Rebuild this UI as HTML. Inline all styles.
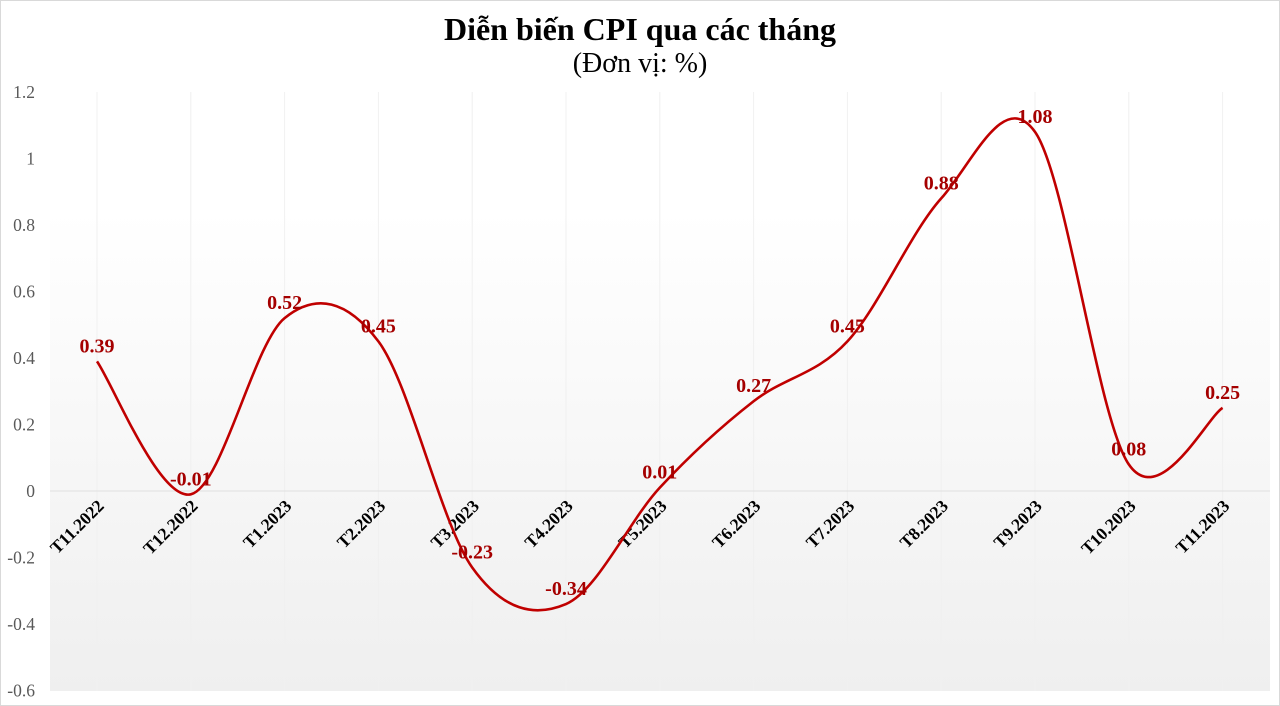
<!DOCTYPE html>
<html><head><meta charset="utf-8"><style>
html,body{margin:0;padding:0;background:#fff}
svg{display:block;font-family:"Liberation Serif",serif}
</style></head><body>
<svg id="chart" width="1280" height="706" viewBox="0 0 1280 706">
<defs>
<linearGradient id="bg" x1="0" y1="0" x2="0" y2="1">
<stop offset="0" stop-color="#ffffff"/><stop offset="0.2" stop-color="#ffffff"/><stop offset="1" stop-color="#efefef"/>
</linearGradient>
</defs>
<rect x="0.5" y="0.5" width="1279" height="705" fill="#fff" stroke="#d9d9d9"/>
<rect x="50" y="92" width="1220" height="599" fill="url(#bg)"/>
<text x="640" y="40" text-anchor="middle" font-size="32" font-weight="bold" fill="#000">Diễn biến CPI qua các tháng</text>
<text x="640" y="72" text-anchor="middle" font-size="28" fill="#000">(Đơn vị: %)</text>
<g id="grid"></g><g id="yaxis"></g><g id="xaxis"></g>
<path id="line" fill="none" stroke="#c00000" stroke-width="2.6"/>
<g id="labels"></g>
</svg>
<script>
const categories=["T11.2022","T12.2022","T1.2023","T2.2023","T3.2023","T4.2023","T5.2023","T6.2023","T7.2023","T8.2023","T9.2023","T10.2023","T11.2023"];
const values=[0.39,-0.01,0.52,0.45,-0.23,-0.34,0.01,0.27,0.45,0.88,1.08,0.08,0.25];
const yTicks=[1.2,1,0.8,0.6,0.4,0.2,0,-0.2,-0.4,-0.6];
const NS="http://www.w3.org/2000/svg";
const x0=97,dx=93.8;
function X(i){return x0+i*dx;}
function Y(v){return 491-v*332.5;}
function mk(tag,attrs,parent,txt){const e=document.createElementNS(NS,tag);for(const k in attrs)e.setAttribute(k,attrs[k]);if(txt!==undefined)e.textContent=txt;parent.appendChild(e);return e;}
const grid=document.getElementById('grid'),ya=document.getElementById('yaxis'),xa=document.getElementById('xaxis'),lb=document.getElementById('labels');
categories.forEach((c,i)=>{
 const g=mk('line',{x1:X(i),x2:X(i),y1:92,y2:691,stroke:'#f0f0f0','stroke-width':1},grid);
 
 
 const ax=X(i)+8,ay=507;
 const t=mk('text',{x:ax,y:ay,'text-anchor':'end','font-size':17.5,'font-weight':'bold',fill:'#000',transform:`rotate(-45 ${ax} ${ay})`},xa,c);
 
 
});
const zl=mk('line',{x1:50,x2:1270,y1:Y(0),y2:Y(0),stroke:'#e0e0e0','stroke-width':1},grid);


yTicks.forEach(v=>{
 const t=mk('text',{x:35,y:Y(v)+6,'text-anchor':'end','font-size':17.5,fill:'#595959'},ya,String(v));
 
 
});
const pts=values.map((v,i)=>[X(i),Y(v)]);
let d=`M${pts[0][0]},${pts[0][1]}`;
for(let i=0;i<pts.length-1;i++){
 const p0=pts[Math.max(0,i-1)],p1=pts[i],p2=pts[i+1],p3=pts[Math.min(pts.length-1,i+2)];
 const k=1/6;
 const c1=[p1[0]+(p2[0]-p0[0])*k,p1[1]+(p2[1]-p0[1])*k];
 const c2=[p2[0]-(p3[0]-p1[0])*k,p2[1]-(p3[1]-p1[1])*k];
 d+=` C${c1[0]},${c1[1]} ${c2[0]},${c2[1]} ${p2[0]},${p2[1]}`;
}
document.getElementById('line').setAttribute('d',d);
values.forEach((v,i)=>{
 const t=mk('text',{x:X(i),y:Y(v)-9,'text-anchor':'middle','font-size':20,'font-weight':'bold',fill:'#a50000'},lb,String(v));
 
 
});
</script>
</body></html>
